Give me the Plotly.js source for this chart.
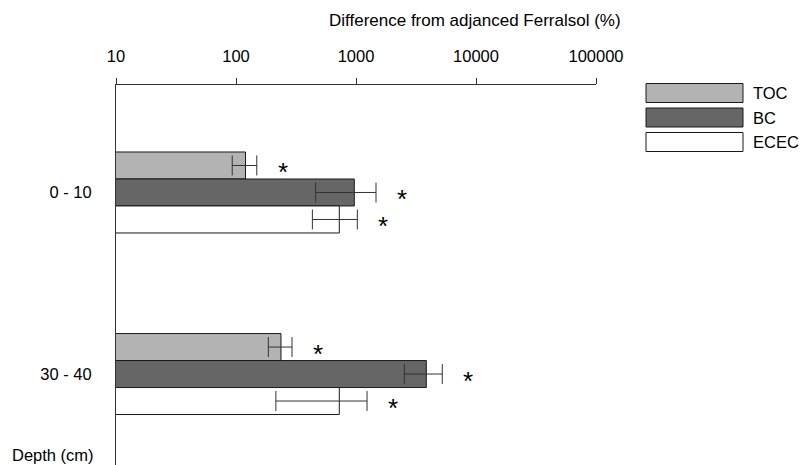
<!DOCTYPE html>
<html>
<head>
<meta charset="utf-8">
<script src="https://cdn.plot.ly/plotly-3.0.1.min.js"></script>
<style>html,body{margin:0;padding:0;background:#fff;}#chart{width:802px;height:465px;}</style>
</head>
<body>
<div id="chart"></div>
<script>
// Data
const depths = ["0 - 10", "30 - 40"];
const seriesNames = ["TOC", "BC", "ECEC"];
const seriesColors = ["#b3b3b3", "#666666", "#ffffff"];
const tocValues = [120, 237];
const tocLow = [93, 186];
const tocHigh = [149, 293];
const bcValues = [968, 3855];
const bcLow = [461, 2527];
const bcHigh = [1468, 5236];
const ececValues = [726, 726];
const ececLow = [433, 215];
const ececHigh = [1026, 1236];
const significance = [["*", "*"], ["*", "*"], ["*", "*"]];
const xTickVals = [10, 100, 1000, 10000, 100000];
const xTickText = ["10", "100", "1000", "10000", "100000"];

const values = [tocValues, bcValues, ececValues];
const lows = [tocLow, bcLow, ececLow];
const highs = [tocHigh, bcHigh, ececHigh];

const FONT = "Liberation Sans, Arial, sans-serif";
const FS = 16.5;
const bargap = 0.554;

const traces = seriesNames.map((name, i) => ({
  type: "bar",
  orientation: "h",
  name: name,
  y: depths,
  x: values[i],
  marker: { color: seriesColors[i], line: { color: "#1a1a1a", width: 1 } },
  error_x: {
    type: "data",
    symmetric: false,
    array: values[i].map((v, j) => highs[i][j] - v),
    arrayminus: values[i].map((v, j) => v - lows[i][j]),
    color: "#333333",
    thickness: 1,
    width: 10
  },
  hoverinfo: "x+name"
}));

const annotations = [];
const slot = (1 - bargap) / seriesNames.length;
seriesNames.forEach((name, i) => {
  depths.forEach((d, j) => {
    annotations.push({
      xref: "x", yref: "y",
      x: Math.log10(highs[i][j]),
      y: j + (i - 1) * slot,
      text: significance[i][j],
      showarrow: false,
      xanchor: "center", yanchor: "middle",
      xshift: 26, yshift: -7,
      font: { family: FONT, size: 26, color: "#000" }
    });
  });
});

annotations.push({
  xref: "paper", yref: "paper", x: (475 - 116) / 480, y: 1, yshift: 65,
  xanchor: "center", yanchor: "middle",
  text: "Difference from adjanced Ferralsol (%)",
  showarrow: false, font: { family: FONT, size: 17, color: "#000" }
});
annotations.push({
  xref: "paper", yref: "paper", x: 0, xshift: -20, y: 0, yshift: 10,
  xanchor: "right", yanchor: "middle",
  text: "Depth (cm)",
  showarrow: false, font: { family: FONT, size: FS, color: "#000" }
});

// Legend drawn as boxes
const shapes = [];
const legTop = [83.5, 108, 132.5];
seriesNames.forEach((name, i) => {
  const yTopPaper = 1 - (legTop[i] - 85) / 380;
  const yBotPaper = 1 - (legTop[i] + 19 - 85) / 380;
  shapes.push({
    type: "rect", xref: "paper", yref: "paper",
    x0: (646 - 116) / 480, x1: (743 - 116) / 480,
    y0: yBotPaper, y1: yTopPaper,
    fillcolor: seriesColors[i], line: { color: "#1a1a1a", width: 1 }
  });
  annotations.push({
    xref: "paper", yref: "paper",
    x: (751 - 116) / 480, y: (yTopPaper + yBotPaper) / 2,
    xanchor: "left", yanchor: "middle",
    text: name, showarrow: false,
    font: { family: FONT, size: FS, color: "#000" }
  });
});

const layout = {
  width: 802, height: 465,
  margin: { l: 116, r: 206, t: 85, b: 0, pad: 0 },
  paper_bgcolor: "#fff", plot_bgcolor: "#fff",
  showlegend: false,
  barmode: "group",
  bargap: bargap,
  bargroupgap: 0,
  font: { family: FONT, size: FS, color: "#000" },
  xaxis: {
    type: "log", side: "top", range: [1, 5],
    tickvals: xTickVals, ticktext: xTickText,
    ticks: "outside", ticklen: 6, tickcolor: "#333", tickwidth: 1,
    showline: true, linecolor: "#333", linewidth: 1,
    showgrid: false, zeroline: false,
    ticklabelstandoff: 9,
    tickfont: { family: FONT, size: FS, color: "#000" }
  },
  yaxis: {
    type: "category", range: [1.501, -0.592],
    showline: true, linecolor: "#333", linewidth: 1,
    ticks: "outside", ticklen: 20, tickcolor: "rgba(0,0,0,0)",
    showgrid: false, zeroline: false,
    tickfont: { family: FONT, size: FS, color: "#000" }
  },
  annotations: annotations,
  shapes: shapes
};

Plotly.newPlot("chart", traces, layout, { displayModeBar: false, staticPlot: true });
</script>
</body>
</html>
